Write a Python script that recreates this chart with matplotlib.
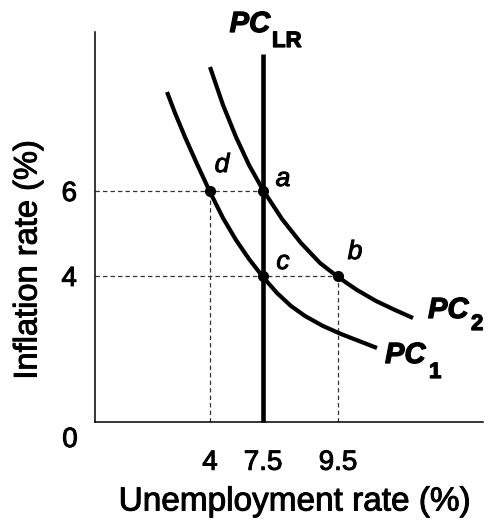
import matplotlib
matplotlib.use("Agg")
import matplotlib.pyplot as plt
import matplotlib.patheffects as pe

plt.rcParams['font.family'] = ['Liberation Sans', 'DejaVu Sans']

# schematic chart units (axis is not to scale)
x_tick_pos = [115, 168, 243]
x_tick_labels = ['4', '7.5', '9.5']
y_tick_pos = [146, 231]
y_tick_labels = ['4', '6']

# short-run Phillips curves
pc1_x = [72, 80, 90, 102, 115, 128, 141, 154, 168, 182, 196, 210, 228, 246, 264, 282]
pc1_y = [330, 309, 285, 258, 230, 204, 182, 163, 145, 129, 116, 106, 96, 88, 81, 74]
pc2_x = [115, 128, 141, 154, 168, 187, 206, 225, 243, 262, 281, 300, 318]
pc2_y = [355, 317, 285, 257, 232, 203, 179, 159, 145, 132, 121, 112, 104]

# long-run Phillips curve
lr_x = 168
lr_top = 368

# labelled points
pt_names = ['a', 'b', 'c', 'd']
pt_x = [168, 243, 168, 115]
pt_y = [231, 146, 146, 231]

# slightly heavier text, like the scanned original
heavy = [pe.withStroke(linewidth=0.7, foreground='black')]
heavier = [pe.withStroke(linewidth=0.9, foreground='black')]

fig = plt.figure(figsize=(4.92, 5.21), dpi=100)
ax = fig.add_axes([95 / 492, 99 / 521, 388 / 492, 390 / 521])
ax.set_xlim(0, 388)
ax.set_ylim(0, 390)

for s in ['top', 'right']:
    ax.spines[s].set_visible(False)
for s in ['left', 'bottom']:
    ax.spines[s].set_linewidth(1.1)
    ax.spines[s].set_color('black')

# dotted guide lines
guide = dict(color='#333333', lw=0.9, linestyle=(0, (3.5, 2.5)), zorder=1)
ax.plot([0, pt_x[0]], [pt_y[0], pt_y[0]], **guide)
ax.plot([0, pt_x[1]], [pt_y[1], pt_y[1]], **guide)
ax.plot([pt_x[3], pt_x[3]], [0, pt_y[3]], **guide)
ax.plot([pt_x[1], pt_x[1]], [0, pt_y[1]], **guide)

ax.plot(pc1_x, pc1_y, color='black', lw=3, solid_capstyle='butt', solid_joinstyle='round', zorder=3)
ax.plot(pc2_x, pc2_y, color='black', lw=3, solid_capstyle='butt', solid_joinstyle='round', zorder=3)
ax.plot([lr_x, lr_x], [0, lr_top], color='black', lw=3.3, solid_capstyle='butt', zorder=3, clip_on=False)

ax.plot(pt_x, pt_y, 'o', color='black', markersize=7, zorder=4)

# point letters
letter_off = {'a': (20, 12), 'b': (17, 24), 'c': (20, 14), 'd': (12, 26)}
for n, x, y in zip(pt_names, pt_x, pt_y):
    dx, dy = letter_off[n]
    ax.text(x + dx, y + dy, n, fontsize=19, style='italic', ha='center', va='center',
            path_effects=heavy)

# curve labels
big = dict(fontsize=21, fontweight='bold', style='italic', path_effects=heavier)
sub = dict(fontsize=16, fontweight='bold', path_effects=heavier)
ax.text(175, 390, 'PC', ha='right', va='baseline', clip_on=False, **big)
ax.text(177, 375, 'LR', ha='left', va='baseline', clip_on=False, **sub)
ax.text(333, 104, 'PC', ha='left', va='baseline', clip_on=False, **big)
ax.text(376, 92, '2', ha='left', va='baseline', clip_on=False, **sub)
ax.text(290, 59, 'PC', ha='left', va='baseline', clip_on=False, **big)
ax.text(334, 44, '1', ha='left', va='baseline', clip_on=False, **sub)

ax.set_xticks(x_tick_pos, x_tick_labels, fontsize=20)
ax.set_yticks(y_tick_pos, y_tick_labels, fontsize=20)
for lab in ax.get_xticklabels() + ax.get_yticklabels():
    lab.set_path_effects(heavy)
ax.tick_params(axis='x', length=0, pad=20)
ax.tick_params(axis='y', length=0, pad=13)
ax.text(-25, -18, '0', fontsize=20, ha='center', va='center', clip_on=False, path_effects=heavy)

fig.text(295 / 492, 1 - 502 / 521, 'Unemployment rate (%)', fontsize=24, ha='center', va='center',
         path_effects=heavy)
fig.text(28 / 492, 1 - 260 / 521, 'Inflation rate (%)', fontsize=23.5, ha='center', va='center',
         rotation=90, path_effects=heavy)

fig.savefig('out.png', dpi=100)
